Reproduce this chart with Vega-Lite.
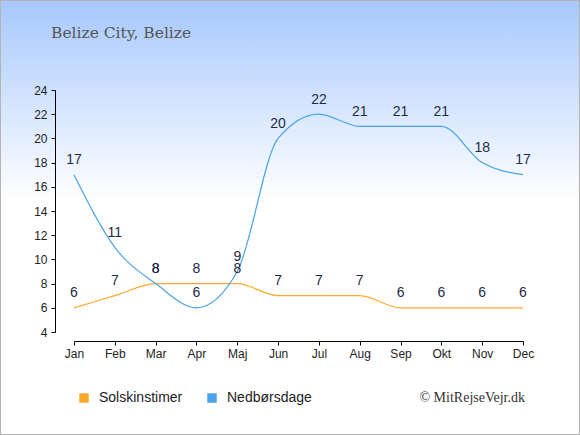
{
  "$schema": "https://vega.github.io/schema/vega-lite/v6.json",
  "autosize": "none",
  "width": 449,
  "height": 242,
  "padding": {"left": 74, "top": 90, "right": 57, "bottom": 103},
  "background": "#ffffff",
  "config": {"view": {"stroke": null}, "font": "Liberation Sans"},
  "title": {
    "text": "Belize City, Belize",
    "font": "DejaVu Serif",
    "fontSize": 15.5,
    "fontWeight": "normal",
    "color": "#555555",
    "anchor": "start",
    "frame": "group",
    "baseline": "alphabetic",
    "dx": -23,
    "offset": -54,
    "zindex": 1
  },
  "layer": [
    {
      "data": {"values": [{}]},
      "mark": {
        "type": "rect",
        "stroke": "#b4b4b4",
        "strokeWidth": 2,
        "fill": {
          "gradient": "linear",
          "x1": 0, "y1": 0, "x2": 0, "y2": 1,
          "stops": [
            {"offset": 0, "color": "#a6c8fd"},
            {"offset": 0.46, "color": "#ffffff"},
            {"offset": 1, "color": "#ffffff"}
          ]
        }
      },
      "encoding": {
        "x": {"datum": -0.1648, "type": "quantitative", "scale": {"domain": [0, 1], "nice": false, "zero": false}, "axis": null},
        "x2": {"datum": 1.1269},
        "y": {"datum": 1.3719, "type": "quantitative", "scale": {"domain": [0, 1], "nice": false, "zero": false}, "axis": null},
        "y2": {"datum": -0.4256}
      }
    },
    {
      "layer": [
        {
          "data": {
            "values": [
              {"month": "Jan", "series": "Solskinstimer", "value": 6},
              {"month": "Feb", "series": "Solskinstimer", "value": 7},
              {"month": "Mar", "series": "Solskinstimer", "value": 8},
              {"month": "Apr", "series": "Solskinstimer", "value": 8},
              {"month": "Maj", "series": "Solskinstimer", "value": 8},
              {"month": "Jun", "series": "Solskinstimer", "value": 7},
              {"month": "Jul", "series": "Solskinstimer", "value": 7},
              {"month": "Aug", "series": "Solskinstimer", "value": 7},
              {"month": "Sep", "series": "Solskinstimer", "value": 6},
              {"month": "Okt", "series": "Solskinstimer", "value": 6},
              {"month": "Nov", "series": "Solskinstimer", "value": 6},
              {"month": "Dec", "series": "Solskinstimer", "value": 6},
              {"month": "Jan", "series": "Nedbørsdage", "value": 17},
              {"month": "Feb", "series": "Nedbørsdage", "value": 11},
              {"month": "Mar", "series": "Nedbørsdage", "value": 8},
              {"month": "Apr", "series": "Nedbørsdage", "value": 6},
              {"month": "Maj", "series": "Nedbørsdage", "value": 9},
              {"month": "Jun", "series": "Nedbørsdage", "value": 20},
              {"month": "Jul", "series": "Nedbørsdage", "value": 22},
              {"month": "Aug", "series": "Nedbørsdage", "value": 21},
              {"month": "Sep", "series": "Nedbørsdage", "value": 21},
              {"month": "Okt", "series": "Nedbørsdage", "value": 21},
              {"month": "Nov", "series": "Nedbørsdage", "value": 18},
              {"month": "Dec", "series": "Nedbørsdage", "value": 17}
            ]
          },
          "encoding": {
            "x": {
              "field": "month",
              "type": "ordinal",
              "sort": ["Jan", "Feb", "Mar", "Apr", "Maj", "Jun", "Jul", "Aug", "Sep", "Okt", "Nov", "Dec"],
              "scale": {"type": "point", "padding": 0},
              "axis": {
                "title": null,
                "labelAngle": 0,
                "offset": 9,
                "tickSize": 4,
                "labelPadding": 3,
                "labelFontSize": 12,
                "labelColor": "#222222",
                "domainColor": "#000000",
                "tickColor": "#000000",
                "zindex": 1
              }
            },
            "y": {
              "field": "value",
              "type": "quantitative",
              "scale": {"domain": [4, 24], "nice": false, "zero": false},
              "axis": {
                "title": null,
                "values": [4, 6, 8, 10, 12, 14, 16, 18, 20, 22, 24],
                "labelOverlap": false,
                "grid": false,
                "offset": 19,
                "tickSize": 4,
                "labelPadding": 4,
                "labelFontSize": 12,
                "labelColor": "#222222",
                "domainColor": "#000000",
                "tickColor": "#000000",
                "zindex": 1
              }
            }
          },
          "layer": [
            {
              "mark": {"type": "line", "interpolate": "monotone", "strokeWidth": 1.2},
              "encoding": {
                "color": {
                  "field": "series",
                  "type": "nominal",
                  "sort": ["Solskinstimer", "Nedbørsdage"],
                  "scale": {"domain": ["Solskinstimer", "Nedbørsdage"], "range": ["#ffa82e", "#4aa3ea"]},
                  "legend": {
                    "title": null,
                    "orient": "none",
                    "legendX": 3,
                    "legendY": 301,
                    "direction": "horizontal",
                    "symbolType": "square",
                    "symbolSize": 90,
                    "symbolStrokeWidth": 0,
                    "labelFontSize": 14,
                    "labelColor": "#222222",
                    "labelOffset": 8,
                    "columnPadding": 22,
                    "zindex": 1,
                    "encode": {
                      "symbols": {
                        "update": {
                          "fill": {"scale": "color", "field": "value"},
                          "opacity": {"value": 1}
                        }
                      }
                    }
                  }
                }
              }
            },
            {
              "mark": {"type": "text", "dy": -14.5, "fontSize": 14, "color": "#1e2b46"},
              "encoding": {
                "text": {"field": "value", "type": "quantitative"}
              }
            }
          ]
        },
        {
          "data": {"values": [{"label": "© MitRejseVejr.dk"}]},
          "mark": {"type": "text", "align": "right", "baseline": "middle", "dx": 2, "dy": 66, "font": "Liberation Serif", "fontSize": 14, "color": "#333333"},
          "encoding": {
            "x": {
              "datum": "Dec",
              "type": "ordinal",
              "axis": {
                "title": null,
                "labelAngle": 0,
                "offset": 9,
                "tickSize": 4,
                "labelPadding": 3,
                "labelFontSize": 12,
                "labelColor": "#222222",
                "domainColor": "#000000",
                "tickColor": "#000000",
                "zindex": 1
              }
            },
            "y": {
              "datum": 4,
              "type": "quantitative",
              "axis": {
                "title": null,
                "values": [4, 6, 8, 10, 12, 14, 16, 18, 20, 22, 24],
                "labelOverlap": false,
                "grid": false,
                "offset": 19,
                "tickSize": 4,
                "labelPadding": 4,
                "labelFontSize": 12,
                "labelColor": "#222222",
                "domainColor": "#000000",
                "tickColor": "#000000",
                "zindex": 1
              }
            },
            "text": {"field": "label", "type": "nominal"}
          }
        }
      ]
    }
  ],
  "resolve": {"scale": {"x": "independent", "y": "independent"}}
}
